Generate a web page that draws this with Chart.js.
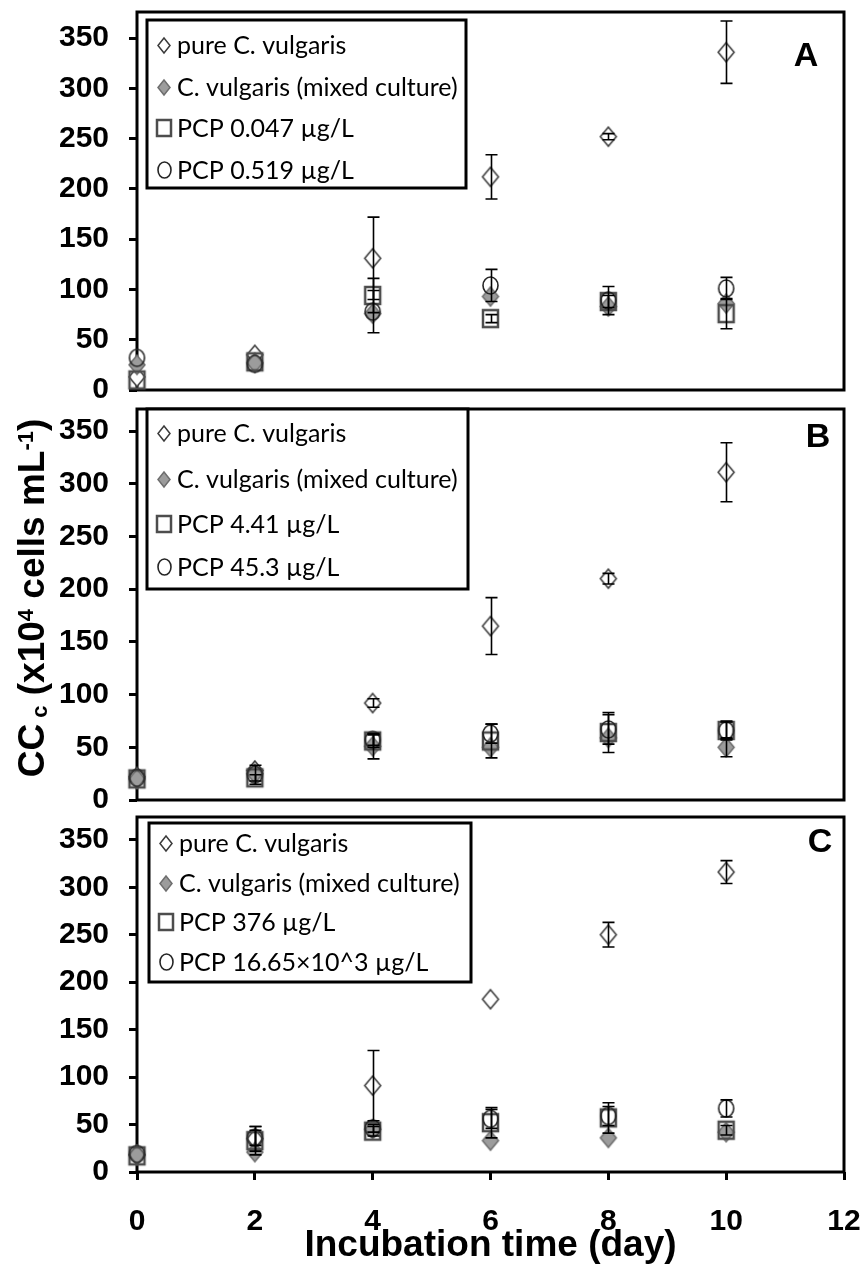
<!DOCTYPE html>
<html>
<head>
<meta charset="utf-8">
<script src="https://cdn.jsdelivr.net/npm/chart.js@4.4.1/dist/chart.umd.min.js"></script>
<style>
  html, body { margin: 0; padding: 0; background: #fff; }
  #wrap { position: relative; width: 861px; height: 1268px; overflow: hidden; background: #fff; }
  #wrap canvas { position: absolute; left: 0; }
</style>
</head>
<body>
<div id="wrap">
  <canvas id="panelA" width="861" height="400" style="top:0px"></canvas>
  <canvas id="panelB" width="861" height="410" style="top:400px"></canvas>
  <canvas id="panelC" width="861" height="460" style="top:808px"></canvas>
</div>
<script>
// ---- data -------------------------------------------------------------
const days   = [0, 2, 4, 6, 8, 10];
const xTicks = [0, 2, 4, 6, 8, 10, 12];
const yTicks = [0, 50, 100, 150, 200, 250, 300, 350];

const seriesPure  = 'pure C. vulgaris';
const seriesMixed = 'C. vulgaris (mixed culture)';
const pcpLabelsA = ['PCP 0.047 µg/L', 'PCP 0.519 µg/L'];
const pcpLabelsB = ['PCP 4.41 µg/L', 'PCP 45.3 µg/L'];
const pcpLabelsC = ['PCP 376 µg/L', 'PCP 16.65×10^3 µg/L'];

// Panel A
const pureA      = [13, 35, 131, 212, 252, 336];
const pureErrA   = [0, 0, 41, 22, 3, 31];
const mixedA     = [25, 27, 76, 93, 83, 86];
const mixedErrA  = [0, 0, 0, 0, 0, 0];
const lowA       = [10, 28, 94, 71, 88, 76];
const lowErrA    = [0, 0, 17, 4, 6, 15];
const highA      = [32, 26, 78, 104, 89, 101];
const highErrA   = [0, 0, 21, 16, 14, 11];

// Panel B
const pureB      = [22, 28, 92, 165, 210, 311];
const pureErrB   = [0, 0, 4, 27, 5, 28];
const mixedB     = [20, 25, 51, 50, 59, 50];
const mixedErrB  = [0, 0, 12, 0, 0, 9];
const lowB       = [20, 21, 56, 56, 64, 66];
const lowErrB    = [0, 3, 6, 16, 19, 9];
const highB      = [21, 24, 57, 63, 67, 66];
const highErrB   = [0, 9, 5, 9, 14, 8];

// Panel C
const pureC      = [18, 35, 91, 182, 250, 316];
const pureErrC   = [0, 13, 37, 0, 13, 12];
const mixedC     = [18, 21, 45, 33, 36, 42];
const mixedErrC  = [0, 0, 0, 0, 0, 0];
const lowC       = [17, 33, 43, 52, 57, 44];
const lowErrC    = [0, 15, 5, 16, 16, 5];
const highC      = [19, 36, 46, 56, 59, 67];
const highErrC   = [0, 8, 4, 10, 10, 9];

// ---- marker glyphs ----------------------------------------------------
function markerImg(kind, w, h, fill, stroke, lw) {
  const pad = Math.ceil(lw) + 1;
  const c = document.createElement('canvas');
  c.width = w + 2 * pad; c.height = h + 2 * pad;
  const g = c.getContext('2d');
  const cx = c.width / 2, cy = c.height / 2;
  g.beginPath();
  if (kind === 'diamond') {
    g.moveTo(cx, cy - h / 2); g.lineTo(cx + w / 2, cy);
    g.lineTo(cx, cy + h / 2); g.lineTo(cx - w / 2, cy); g.closePath();
  } else if (kind === 'square') {
    g.rect(cx - w / 2, cy - h / 2, w, h);
  } else {
    g.ellipse(cx, cy, w / 2, h / 2, 0, 0, Math.PI * 2);
  }
  if (fill) { g.fillStyle = fill; g.fill(); }
  g.lineWidth = lw; g.strokeStyle = stroke; g.stroke();
  return c;
}

const STYLES = [
  { kind: 'diamond', fill: '#ffffff', stroke: '#3a3a3a', lw: 1.5 },
  { kind: 'diamond', fill: '#9c9c9c', stroke: '#6e6e6e', lw: 1.5 },
  { kind: 'square',  fill: null,      stroke: '#4d4d4d', lw: 2.5 },
  { kind: 'circle',  fill: null,      stroke: '#262626', lw: 1.6 }
];
const PLOT_SIZE   = [[16, 19], [16, 19], [15, 17], [15, 17]];
const LEGEND_SIZE = [[12, 15], [12, 15], [14, 16], [13, 16]];
const plotMarkers   = STYLES.map((s, i) => markerImg(s.kind, PLOT_SIZE[i][0], PLOT_SIZE[i][1], s.fill, s.stroke, s.lw));
const legendMarkers = STYLES.map((s, i) => markerImg(s.kind, LEGEND_SIZE[i][0], LEGEND_SIZE[i][1], s.fill, s.stroke, s.lw));

const AXIS_FONT = '"Liberation Sans", Arial, Helvetica, sans-serif';
const LEGEND_FONT = 'Lato, "Open Sans", sans-serif';

// ---- decoration plugin: frame, error bars, legend box, panel letter ----
const panelDecor = {
  id: 'panelDecor',
  beforeDatasetsDraw(chart, args, o) {
    const { ctx, chartArea: a } = chart;
    ctx.save();
    ctx.lineWidth = 3;
    ctx.strokeStyle = '#000';
    ctx.strokeRect(a.left, a.top, a.right - a.left, a.bottom - a.top);
    ctx.restore();
  },
  afterDatasetsDraw(chart, args, o) {
    const { ctx } = chart;
    const ys = chart.scales.y;
    // error bars
    ctx.save();
    ctx.strokeStyle = '#000';
    ctx.lineWidth = 1.6;
    chart.data.datasets.forEach((ds, i) => {
      const meta = chart.getDatasetMeta(i);
      ds.errors.forEach((e, j) => {
        if (!e) return;
        const v = ds.data[j].y;
        const x = Math.round(meta.data[j].x) + 0.5;
        const y1 = ys.getPixelForValue(v + e);
        const y2 = ys.getPixelForValue(v - e);
        ctx.beginPath();
        ctx.moveTo(x, y1); ctx.lineTo(x, y2);
        ctx.moveTo(x - 6, y1); ctx.lineTo(x + 6, y1);
        ctx.moveTo(x - 6, y2); ctx.lineTo(x + 6, y2);
        ctx.stroke();
      });
    });
    ctx.restore();

    // legend box
    const L = o.legend;
    ctx.save();
    ctx.fillStyle = '#fff';
    ctx.fillRect(L.box[0], L.box[1], L.box[2] - L.box[0], L.box[3] - L.box[1]);
    ctx.lineWidth = 3;
    ctx.strokeStyle = '#000';
    ctx.strokeRect(L.box[0], L.box[1], L.box[2] - L.box[0], L.box[3] - L.box[1]);
    ctx.font = L.font;
    ctx.fillStyle = '#000';
    ctx.textBaseline = 'middle';
    ctx.textAlign = 'left';
    chart.data.datasets.forEach((ds, i) => {
      const m = legendMarkers[i];
      const ry = L.rows[i];
      ctx.drawImage(m, Math.round(L.markerX - m.width / 2), Math.round(ry - m.height / 2));
      ctx.fillText(ds.label, L.textX, ry + 1);
    });
    // panel letter
    ctx.font = 'bold 34px ' + AXIS_FONT;
    ctx.textAlign = 'center';
    ctx.fillText(o.letter.text, o.letter.x, o.letter.y);
    ctx.restore();
  },
  afterDraw(chart, args, o) {
    if (!o.yTitle) return;
    const { ctx } = chart;
    const big = 'bold 37px ' + AXIS_FONT;
    const small = 'bold 22px ' + AXIS_FONT;
    const parts = [
      { t: 'CC', f: big, dy: 0 },
      { t: ' c', f: small, dy: 3 },
      { t: ' (x10', f: big, dy: 0 },
      { t: '4', f: small, dy: -11 },
      { t: ' cells mL', f: big, dy: 0 },
      { t: '-1', f: small, dy: -11 },
      { t: ')', f: big, dy: 0 }
    ];
    ctx.save();
    let total = 0;
    parts.forEach(p => { ctx.font = p.f; p.w = ctx.measureText(p.t).width; total += p.w; });
    ctx.translate(o.yTitle.x, o.yTitle.y);
    ctx.rotate(-Math.PI / 2);
    ctx.fillStyle = '#000';
    ctx.textBaseline = 'alphabetic';
    ctx.textAlign = 'left';
    let x = -total / 2;
    parts.forEach(p => { ctx.font = p.f; ctx.fillText(p.t, x, p.dy); x += p.w; });
    ctx.restore();
  }
};

function buildDatasets(pure, pureErr, mixed, mixedErr, low, lowErr, high, highErr, pcpLabels) {
  const vals = [pure, mixed, low, high];
  const errs = [pureErr, mixedErr, lowErr, highErr];
  const labels = [seriesPure, seriesMixed, pcpLabels[0], pcpLabels[1]];
  return vals.map((v, i) => ({
    label: labels[i],
    data: days.map((d, j) => ({ x: d, y: v[j] })),
    errors: errs[i],
    pointStyle: plotMarkers[i],
    pointRadius: 8,
    showLine: false,
    clip: false,
    order: 4 - i
  }));
}

function makePanel(id, datasets, cfg) {
  return new Chart(document.getElementById(id), {
    type: 'scatter',
    data: { datasets },
    plugins: [panelDecor],
    options: {
      responsive: false,
      animation: false,
      events: [],
      layout: { padding: cfg.padding },
      plugins: {
        legend: { display: false },
        tooltip: { enabled: false },
        panelDecor: { legend: cfg.legend, letter: cfg.letter, yTitle: cfg.yTitle || null }
      },
      scales: {
        x: {
          type: 'linear', min: 0, max: 12,
          display: cfg.showX,
          afterBuildTicks: s => { s.ticks = xTicks.map(v => ({ value: v })); },
          afterFit: s => {
            if (cfg.showX) s.height = cfg.xHeight;
            s.paddingLeft = 0; s.paddingRight = 0;
          },
          grid: { display: true, drawOnChartArea: false, drawTicks: true, tickLength: 8, tickWidth: 3, tickColor: '#000' },
          border: { display: false },
          ticks: { color: '#000', padding: 24, maxRotation: 0, autoSkip: false, font: { family: AXIS_FONT, size: 30, weight: 'bold' } },
          title: {
            display: cfg.showX, text: 'Incubation time (day)', color: '#000',
            padding: { top: 0, bottom: 0 },
            font: { family: AXIS_FONT, size: 37, weight: 'bold' }
          }
        },
        y: {
          type: 'linear', min: 0, max: cfg.yMax,
          afterBuildTicks: s => { s.ticks = yTicks.map(v => ({ value: v })); },
          afterFit: s => { s.width = 137; s.paddingTop = 0; s.paddingBottom = 0; },
          grid: { display: true, drawOnChartArea: false, drawTicks: true, tickLength: 8, tickWidth: 3, tickColor: '#000' },
          border: { display: false },
          ticks: { color: '#000', padding: 20, font: { family: AXIS_FONT, size: 30, weight: 'bold' } }
        }
      }
    }
  });
}

makePanel('panelA',
  buildDatasets(pureA, pureErrA, mixedA, mixedErrA, lowA, lowErrA, highA, highErrA, pcpLabelsA),
  {
    yMax: 376, showX: false, padding: { top: 12, bottom: 10, left: 0, right: 17 },
    legend: { box: [147, 20, 466, 188], rows: [45, 87, 128, 170], markerX: 164, textX: 177, font: '25px ' + LEGEND_FONT },
    letter: { text: 'A', x: 806, y: 57 }
  });

makePanel('panelB',
  buildDatasets(pureB, pureErrB, mixedB, mixedErrB, lowB, lowErrB, highB, highErrB, pcpLabelsB),
  {
    yMax: 371, showX: false, padding: { top: 2, bottom: 10, left: 0, right: 17 },
    legend: { box: [147, 9, 468, 189], rows: [33, 79, 124, 167], markerX: 164, textX: 177, font: '25px ' + LEGEND_FONT },
    letter: { text: 'B', x: 818, y: 38 },
    yTitle: { x: 44, y: 198 }
  });

makePanel('panelC',
  buildDatasets(pureC, pureErrC, mixedC, mixedErrC, lowC, lowErrC, highC, highErrC, pcpLabelsC),
  {
    yMax: 374, showX: true, xHeight: 96, padding: { top: 2, bottom: 0, left: 0, right: 17 },
    legend: { box: [149, 15, 471, 174], rows: [35, 75, 114, 154], markerX: 166, textX: 179, font: '25px ' + LEGEND_FONT },
    letter: { text: 'C', x: 820, y: 35 }
  });
</script>
</body>
</html>
